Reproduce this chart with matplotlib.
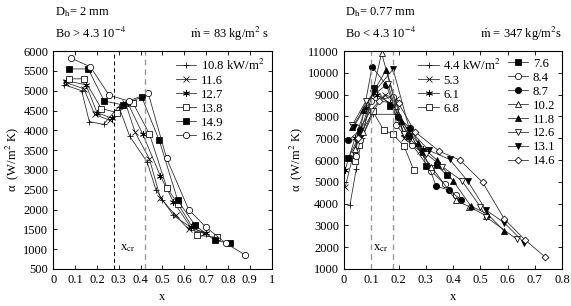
import numpy as np
import matplotlib
matplotlib.use("Agg")
import matplotlib.pyplot as plt
from matplotlib.ticker import FuncFormatter

plt.rcParams['font.family'] = ['Liberation Serif', 'DejaVu Serif']
plt.rcParams['mathtext.fontset'] = 'stix'
plt.rcParams['font.size'] = 9

# ---------------- datos panel izquierdo (Dh = 2 mm) ----------------
izq_labels = ['10.8 kW/m$^2$', '11.6', '12.7', '13.8', '14.9', '16.2']
izq_x = [
    [0.05, 0.13, 0.165, 0.23, 0.30, 0.35, 0.43, 0.47, 0.50, 0.55, 0.63, 0.70],
    [0.06, 0.14, 0.19, 0.26, 0.33, 0.375, 0.44, 0.49, 0.56, 0.62, 0.69],
    [0.06, 0.15, 0.20, 0.27, 0.34, 0.41, 0.49, 0.55, 0.63, 0.70],
    [0.07, 0.14, 0.22, 0.29, 0.366, 0.44, 0.52, 0.57, 0.66, 0.75],
    [0.07, 0.16, 0.233, 0.32, 0.405, 0.485, 0.57, 0.65, 0.74, 0.81],
    [0.08, 0.17, 0.256, 0.345, 0.435, 0.519, 0.62, 0.70, 0.79, 0.88],
]
izq_y = [
    [5150, 5000, 4220, 4150, 4600, 3850, 3200, 2500, 2250, 1850, 1550, 1380],
    [5200, 5050, 4400, 4250, 4700, 3950, 3280, 2300, 1850, 1500, 1400],
    [5250, 5150, 4450, 4300, 4700, 3900, 2850, 2200, 1550, 1400],
    [5300, 5300, 4550, 4450, 4680, 3915, 2550, 2150, 1350, 1300],
    [5550, 5550, 4740, 4640, 4840, 3750, 2230, 1600, 1220, 1150],
    [5830, 5600, 4885, 4740, 4935, 3290, 2000, 1550, 1150, 850],
]
izq_mk = ['+', 'x', (6, 2, 0), 's', 's', 'o']
izq_fill = [False, False, False, False, True, False]

# ---------------- datos panel derecho (Dh = 0.77 mm) ----------------
der_labels = ['4.4 kW/m$^2$', '5.3', '6.1', '6.8',
              '7.6', '8.4', '8.7', '10.2', '11.8', '12.6', '13.1', '14.6']
der_x = [
    [0.022, 0.045, 0.065, 0.105, 0.195, 0.24, 0.29],
    [0.004, 0.035, 0.06, 0.10, 0.15, 0.19, 0.22, 0.28],
    [0.004, 0.04, 0.08, 0.12, 0.17, 0.22, 0.29],
    [0.04, 0.055, 0.105, 0.145, 0.178, 0.22, 0.256],
    [0.016, 0.06, 0.11, 0.17, 0.24, 0.29, 0.30, 0.34, 0.377],
    [0.045, 0.06, 0.10, 0.18, 0.192, 0.25, 0.32, 0.37, 0.41],
    [0.016, 0.06, 0.103, 0.155, 0.198, 0.243, 0.29, 0.338, 0.384, 0.43],
    [0.04, 0.07, 0.138, 0.19, 0.25, 0.32, 0.41, 0.46, 0.52],
    [0.03, 0.07, 0.155, 0.21, 0.27, 0.34, 0.40, 0.465, 0.526, 0.588],
    [0.03, 0.08, 0.16, 0.22, 0.30, 0.36, 0.432, 0.50, 0.52, 0.633],
    [0.035, 0.107, 0.18, 0.24, 0.31, 0.387, 0.453, 0.52, 0.588, 0.66],
    [0.05, 0.13, 0.20, 0.26, 0.35, 0.425, 0.508, 0.588, 0.664, 0.737],
]
der_y = [
    [3950, 5600, 7000, 8100, 8100, 7000, 6300],
    [4750, 6300, 7500, 8300, 9000, 8800, 7000, 6400],
    [5550, 7000, 8400, 9000, 8600, 7200, 6500],
    [5950, 6700, 8250, 7380, 7190, 6650, 5520],
    [6080, 7250, 9300, 8500, 7100, 6350, 5740, 5750, 5310],
    [6200, 6900, 8700, 8900, 7600, 6700, 5500, 4880, 4390],
    [6900, 7400, 10280, 9450, 7990, 7450, 6400, 4800, 4620, 4170],
    [6500, 7300, 10900, 8500, 6900, 5700, 4170, 3850, 3450],
    [7500, 8300, 10150, 7800, 6800, 6000, 5050, 3890, 3520, 2740],
    [7600, 8700, 9500, 7200, 6300, 5700, 5050, 3860, 3400, 2370],
    [7500, 9060, 10170, 7400, 6450, 6030, 5050, 3710, 3120, 2210],
    [7000, 8700, 8600, 7300, 6400, 6000, 4980, 3290, 2330, 1560],
]
der_mk = ['+', 'x', (6, 2, 0), 's', 's', 'o', 'o', '^', '^', 'v', 'v', 'D']
der_fill = [False, False, False, False, True, False, True, False, True, False, True, False]

fig = plt.figure(figsize=(5.71, 3.06), dpi=100)
ax1 = fig.add_axes([0.0933, 0.121, 0.3825, 0.712])
ax2 = fig.add_axes([0.6025, 0.121, 0.382, 0.712])


def dibujar(ax, xs, ys, mks, fills, labels):
    hs = []
    for x, y, m, f, lab in zip(xs, ys, mks, fills, labels):
        ms = 4.5
        if m == 'D':
            ms = 3.5
        if m in ('+', 'x', (6, 2, 0)):
            ms = 5
        h, = ax.plot(x, y, color='#222222', lw=0.55, marker=m, ms=ms,
                     mfc='black' if f else 'white', mec='black', mew=0.55,
                     label=lab)
        hs.append(h)
    return hs


def formato(v, pos):
    return '%g' % round(v, 2)


ley = dict(frameon=False, loc='upper left', handlelength=1.6, labelspacing=0.15,
           handletextpad=0.35, borderaxespad=0.3, fontsize=9.2)

# panel izquierdo
h1 = dibujar(ax1, izq_x, izq_y, izq_mk, izq_fill, izq_labels)
ax1.axvline(0.28, color='black', ls=(0, (4, 3)), lw=0.7)
ax1.axvline(0.42, color='#999999', ls=(0, (4, 3)), lw=1.0)
ax1.set_xlim(0, 1)
ax1.set_ylim(500, 6000)
ax1.set_xticks(np.arange(0, 1.01, 0.1))
ax1.set_yticks(np.arange(500, 6001, 500))
ax1.xaxis.set_major_formatter(FuncFormatter(formato))
ax1.text(0.305, 1030, 'x$_{\\rm cr}$', fontsize=9, va='center')
ax1.legend(handles=h1, bbox_to_anchor=(0.52, 1.01), **ley)
ax1.set_xlabel('x', labelpad=4)
ax1.set_ylabel('α  (W/m$^2$ K)', labelpad=2)

# panel derecho
h2 = dibujar(ax2, der_x, der_y, der_mk, der_fill, der_labels)
ax2.axvline(0.10, color='#999999', ls=(0, (4, 3)), lw=1.0)
ax2.axvline(0.18, color='#999999', ls=(0, (4, 3)), lw=1.0)
ax2.set_xlim(0, 0.8)
ax2.set_ylim(1000, 11000)
ax2.set_xticks(np.arange(0, 0.81, 0.1))
ax2.set_yticks(np.arange(1000, 11001, 1000))
ax2.xaxis.set_major_formatter(FuncFormatter(formato))
ax2.text(0.107, 1960, 'x$_{\\rm cr}$', fontsize=9, va='center')
leg_a = ax2.legend(handles=h2[:4], bbox_to_anchor=(0.30, 1.01), **ley)
ax2.add_artist(leg_a)
ax2.legend(handles=h2[4:], bbox_to_anchor=(0.71, 1.01), **ley)
ax2.set_xlabel('x', labelpad=4)
ax2.set_ylabel('α  (W/m$^2$ K)', labelpad=2)

for ax in (ax1, ax2):
    ax.tick_params(direction='in', top=True, right=True, length=3, width=0.6,
                   labelsize=9)
    for s in ax.spines.values():
        s.set_linewidth(0.8)

# encabezados
fig.text(0.096, 0.96, 'D$_{\\rm h}$= 2 mm', fontsize=9, va='center')
fig.text(0.096, 0.89, 'Bo > 4.3 10$^{-4}$', fontsize=9, va='center')
fig.text(0.472, 0.89, '$\\dot{\\rm m}$ = 83 kg/m$^2$ s', fontsize=9, va='center', ha='right')
fig.text(0.605, 0.96, 'D$_{\\rm h}$= 0.77 mm', fontsize=9, va='center')
fig.text(0.605, 0.89, 'Bo < 4.3 10$^{-4}$', fontsize=9, va='center')
fig.text(0.984, 0.89, '$\\dot{\\rm m}$ = 347 kg/m$^2$s', fontsize=9, va='center', ha='right')

fig.savefig('out.png', dpi=100)
